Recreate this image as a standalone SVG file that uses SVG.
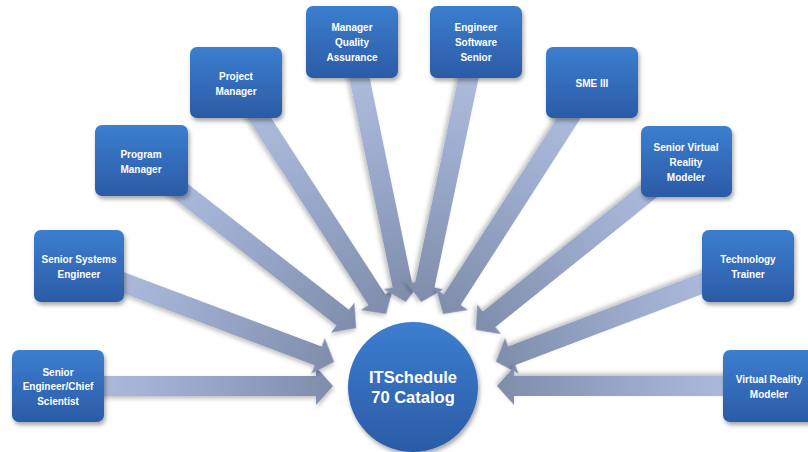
<svg xmlns="http://www.w3.org/2000/svg" width="808" height="452" viewBox="0 0 808 452">
<defs>
<linearGradient id="boxg" x1="0" y1="0" x2="0" y2="1">
<stop offset="0" stop-color="#3c7ed0"/>
<stop offset="1" stop-color="#2b5ba6"/>
</linearGradient>
<linearGradient id="arrg" x1="0" y1="0" x2="1" y2="0">
<stop offset="0" stop-color="#b3c1e0"/>
<stop offset="0.35" stop-color="#a2b1d3"/>
<stop offset="1" stop-color="#7f8dab"/>
</linearGradient>
<filter id="sh" x="-20%" y="-20%" width="150%" height="150%">
<feDropShadow dx="1.5" dy="3" stdDeviation="2.2" flood-color="#000" flood-opacity="0.35"/>
</filter>
<filter id="ash" x="-20%" y="-30%" width="140%" height="160%">
<feDropShadow dx="1" dy="2.5" stdDeviation="2" flood-color="#000" flood-opacity="0.25"/>
</filter>
</defs>
<style>
.box{fill:url(#boxg);filter:url(#sh);}
.arr{fill:url(#arrg);filter:url(#ash);}
.t{fill:#fff;font-family:"Liberation Sans",Arial,sans-serif;font-size:10px;font-weight:bold;text-anchor:middle;}
.ct{fill:#fff;font-family:"Liberation Sans",Arial,sans-serif;font-size:16.5px;font-weight:bold;text-anchor:middle;}
</style>
<rect width="808" height="452" fill="#fff"/>
<g id="connectors">
<path class="arr" transform="translate(58,386) rotate(0)" d="M0,-10 H258 V-19 L275,0 L258,19 V10 H0 Z"/>
<path class="arr" transform="translate(79,266) rotate(20.6)" d="M0,-10 H255.5 V-19 L272.5,0 L255.5,19 V10 H0 Z"/>
<path class="arr" transform="translate(141,160) rotate(38)" d="M0,-10 H256 V-19 L273,0 L256,19 V10 H0 Z"/>
<path class="arr" transform="translate(236,82) rotate(57.1)" d="M0,-10 H259.3 V-19 L276.3,0 L259.3,19 V10 H0 Z"/>
<path class="arr" transform="translate(352,42) rotate(78.3)" d="M0,-10 H248.5 V-19 L265.5,0 L248.5,19 V10 H0 Z"/>
<path class="arr" transform="translate(476,42) rotate(101.9)" d="M0,-10 H248.8 V-19 L265.8,0 L248.8,19 V10 H0 Z"/>
<path class="arr" transform="translate(592,82) rotate(122.7)" d="M0,-10 H258.7 V-19 L275.7,0 L258.7,19 V10 H0 Z"/>
<path class="arr" transform="translate(686,161) rotate(141.2)" d="M0,-10 H252.6 V-19 L269.6,0 L252.6,19 V10 H0 Z"/>
<path class="arr" transform="translate(748,266) rotate(159.2)" d="M0,-10 H252.7 V-19 L269.7,0 L252.7,19 V10 H0 Z"/>
<path class="arr" transform="translate(769,386) rotate(180)" d="M0,-10 H255 V-19 L272,0 L255,19 V10 H0 Z"/>
</g>
<g id="center">
<circle cx="413" cy="387" r="65" fill="url(#boxg)" filter="url(#sh)"/>
<text class="ct" x="413" y="383">ITSchedule</text>
<text class="ct" x="413" y="403">70 Catalog</text>
</g>
<g id="n1">
<rect class="box" x="12" y="350" width="92" height="72" rx="7"/>
<text class="t" x="58" y="376">Senior</text>
<text class="t" x="58" y="390">Engineer/Chief</text>
<text class="t" x="58" y="405">Scientist</text>
</g>
<g id="n2">
<rect class="box" x="34" y="230" width="90" height="72" rx="7"/>
<text class="t" x="79" y="263">Senior Systems</text>
<text class="t" x="79" y="278">Engineer</text>
</g>
<g id="n3">
<rect class="box" x="95" y="125" width="93" height="71" rx="7"/>
<text class="t" x="141" y="158">Program</text>
<text class="t" x="141" y="173">Manager</text>
</g>
<g id="n4">
<rect class="box" x="190" y="47" width="92" height="71" rx="7"/>
<text class="t" x="236" y="80">Project</text>
<text class="t" x="236" y="95">Manager</text>
</g>
<g id="n5">
<rect class="box" x="306" y="6" width="92" height="72" rx="7"/>
<text class="t" x="352" y="31">Manager</text>
<text class="t" x="352" y="46">Quality</text>
<text class="t" x="352" y="61">Assurance</text>
</g>
<g id="n6">
<rect class="box" x="430" y="6" width="92" height="72" rx="7"/>
<text class="t" x="476" y="31">Engineer</text>
<text class="t" x="476" y="46">Software</text>
<text class="t" x="476" y="61">Senior</text>
</g>
<g id="n7">
<rect class="box" x="546" y="47" width="92" height="71" rx="7"/>
<text class="t" x="592" y="87">SME III</text>
</g>
<g id="n8">
<rect class="box" x="641" y="126" width="91" height="71" rx="7"/>
<text class="t" x="686" y="151">Senior Virtual</text>
<text class="t" x="686" y="166">Reality</text>
<text class="t" x="686" y="181">Modeler</text>
</g>
<g id="n9">
<rect class="box" x="702" y="230" width="92" height="72" rx="7"/>
<text class="t" x="748" y="263">Technology</text>
<text class="t" x="748" y="278">Trainer</text>
</g>
<g id="n10">
<rect class="box" x="723" y="350" width="92" height="72" rx="7"/>
<text class="t" x="769" y="383">Virtual Reality</text>
<text class="t" x="769" y="398">Modeler</text>
</g>
</svg>
